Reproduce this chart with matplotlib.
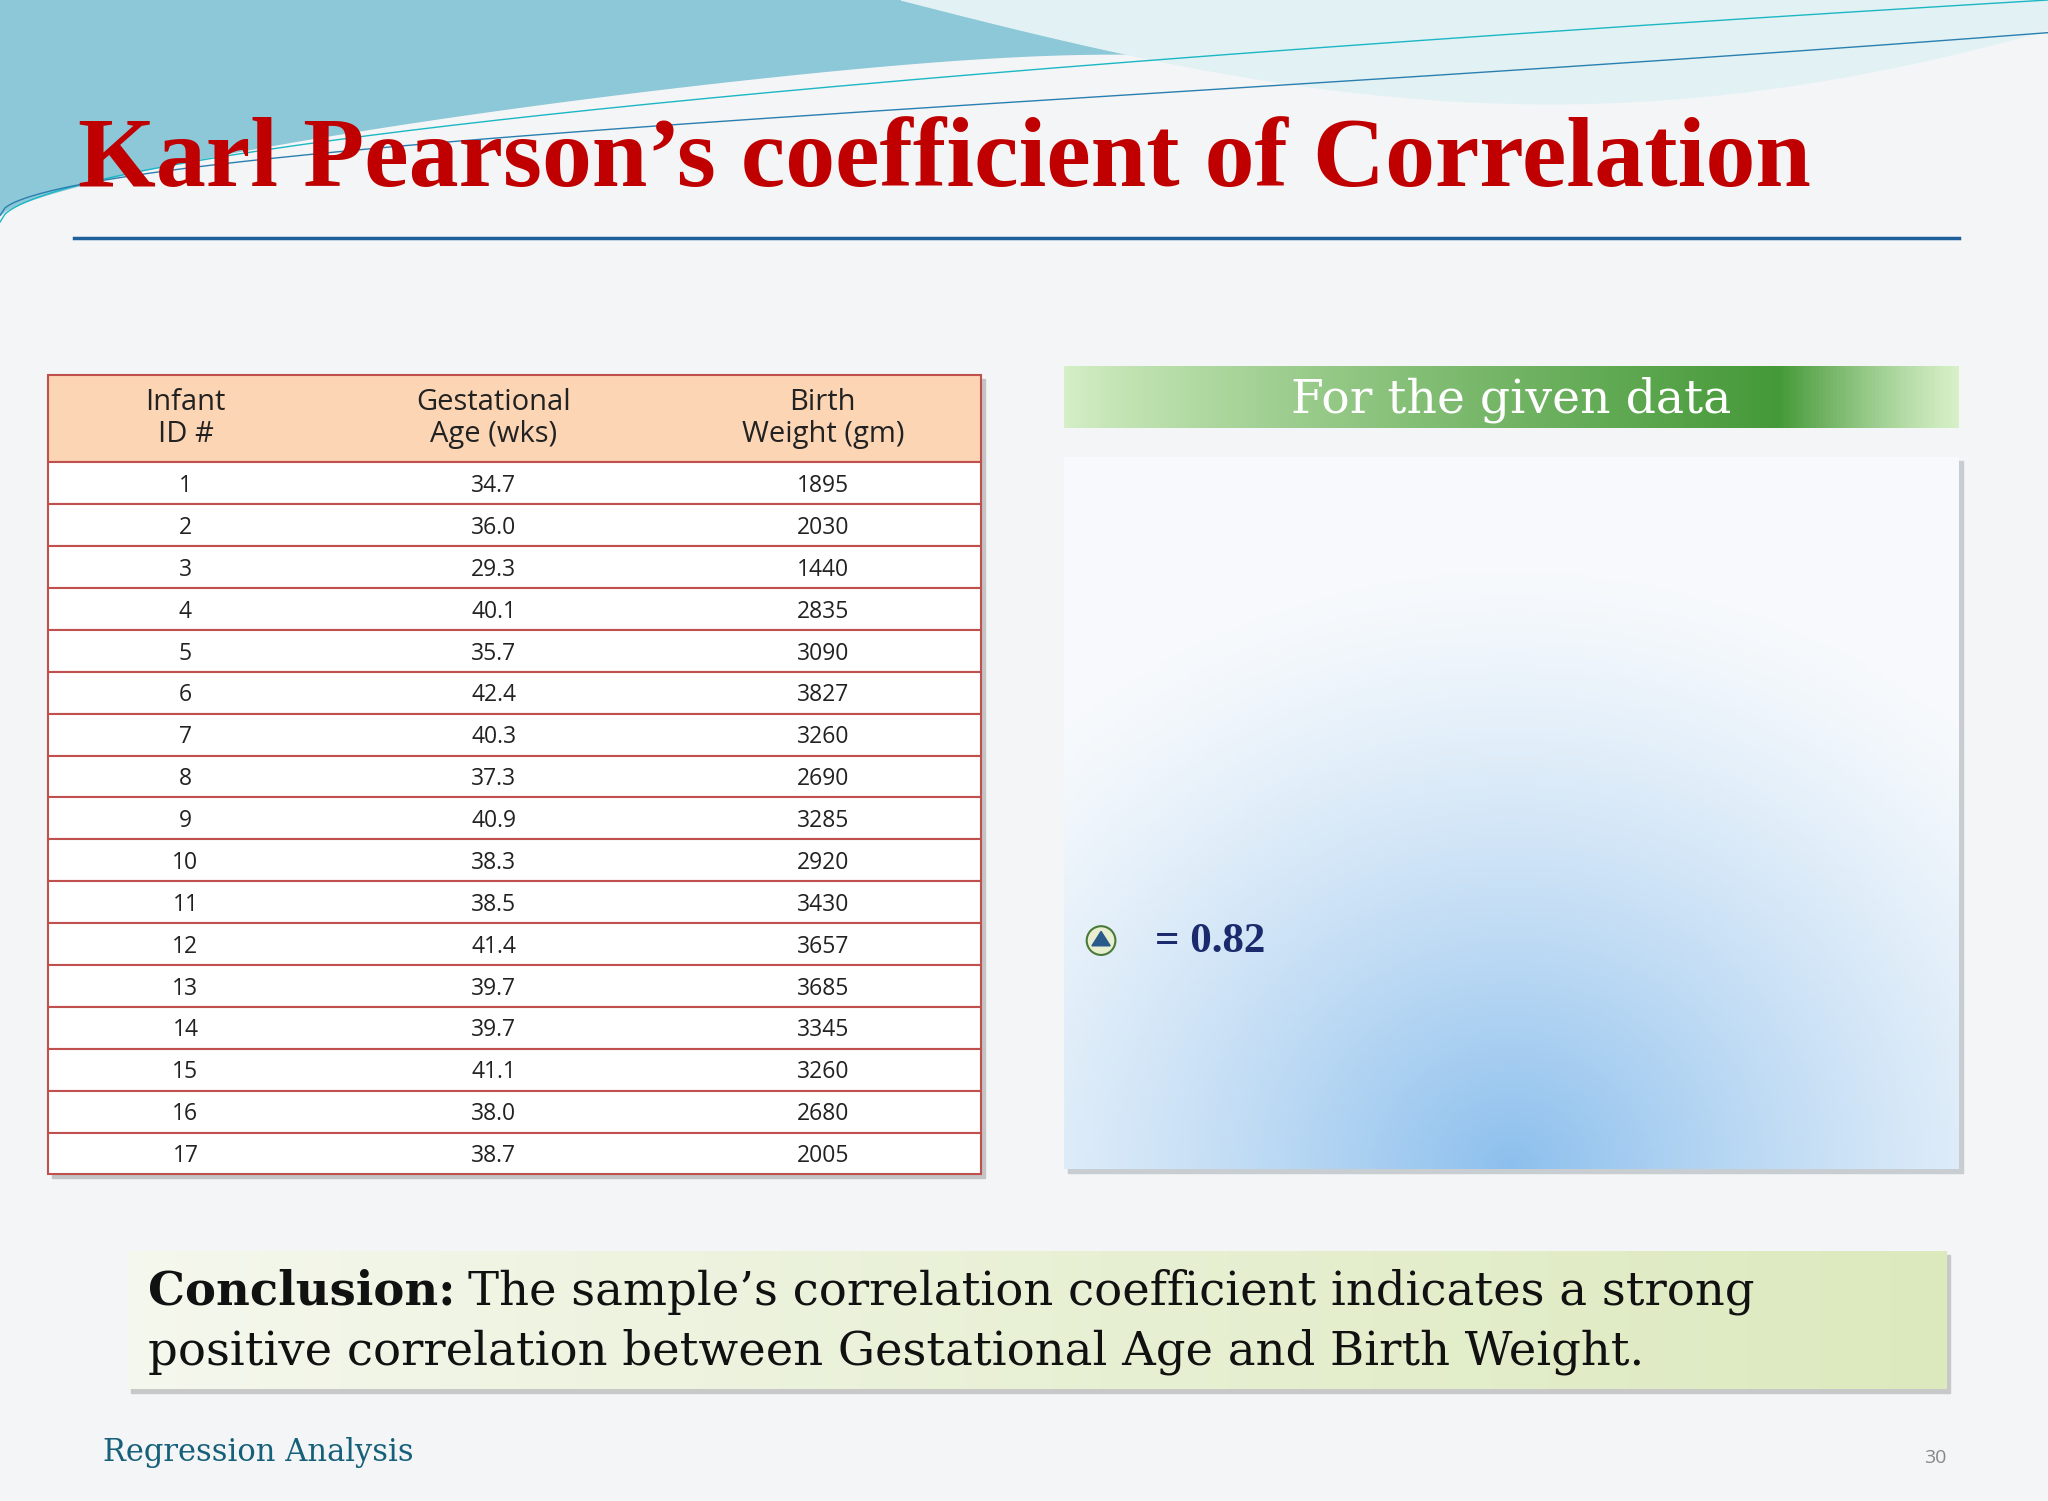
import numpy as np
import matplotlib.pyplot as plt
from matplotlib.patches import Rectangle, Circle, Polygon

# table data
infant_id = [str(i) for i in range(1, 18)]
gest_age = ["34.7", "36.0", "29.3", "40.1", "35.7", "42.4", "40.3", "37.3", "40.9",
            "38.3", "38.5", "41.4", "39.7", "39.7", "41.1", "38.0", "38.7"]
birth_wt = ["1895", "2030", "1440", "2835", "3090", "3827", "3260", "2690", "3285",
            "2920", "3430", "3657", "3685", "3345", "3260", "2680", "2005"]
headers = ["Infant\nID #", "Gestational\nAge (wks)", "Birth\nWeight (gm)"]
r_value = 0.82

W, H = 1568, 1149
fig = plt.figure(figsize=(20.48, 15.01), dpi=100)
ax = fig.add_axes([0, 0, 1, 1])
ax.set_xlim(0, W)
ax.set_ylim(H, 0)
ax.axis('off')
fig.patch.set_facecolor('#f3f5f7')

# top waves (decoration)
x = np.linspace(0, W, 400)
u = x / W
edge1 = 165 - 150 * np.sin(np.pi * np.clip(u / 0.9, 0, 1) * 0.5) ** 0.7 + 40 * np.exp(-((u - 0.75) / 0.15) ** 2)
ax.add_patch(Polygon(np.column_stack([np.r_[x, W, 0], np.r_[edge1, 0, 0]]), color='#8cc8d8', zorder=1))
m = x > 690
edge2 = 0 + 90 * np.sin(np.pi * (x[m] - 690) / 878 * 0.8) - 30 * ((x[m] - 690) / 878) ** 2
ax.add_patch(Polygon(np.column_stack([np.r_[x[m], W, 690], np.r_[edge2, 0, 0]]), color='#e2f2f4', zorder=1))
ax.add_patch(Polygon(np.column_stack([np.r_[x[m], W], np.r_[110 - 75 * ((x[m] - 690) / 878) ** 1.5 + 20 * np.sin(np.pi * (x[m] - 690) / 878), 140]]),
                     color='#f3f5f7', zorder=1))
ax.plot(x, 170 - 170 * u ** 0.55, color='#1cb7c4', lw=1, zorder=2)
ax.plot(x, 165 - 120 * u ** 0.5 - 20 * u ** 3, color='#2a7fb0', lw=1, zorder=2)

# title
ax.text(60, 124, "Karl Pearson\u2019s coefficient of Correlation", color='#c00000',
        fontsize=72, fontweight='bold', family='Liberation Serif', va='center', ha='left', zorder=3)
ax.plot([57, 1500], [182, 182], color='#1f5f9a', lw=2.5)

# table
tx0, tx1 = 37, 751
col_x = [142, 378, 630]
hy0, hy1 = 287, 354
row_h = (899 - hy1) / len(infant_id)
red = '#c0504d'
ax.add_patch(Rectangle((tx0 + 3, hy0 + 3), tx1 - tx0, 899 - hy0, color='#c4c4c4', zorder=2))
ax.add_patch(Rectangle((tx0, hy0), tx1 - tx0, hy1 - hy0, facecolor='#fcd5b4', edgecolor=red, lw=1.5, zorder=3))
for cx, h in zip(col_x, headers):
    ax.text(cx, (hy0 + hy1) / 2, h, ha='center', va='center', fontsize=21,
            family='Open Sans', linespacing=1.15, color='#222222', zorder=4)
for i, row in enumerate(zip(infant_id, gest_age, birth_wt)):
    y0 = hy1 + i * row_h
    ax.add_patch(Rectangle((tx0, y0), tx1 - tx0, row_h, facecolor='white', edgecolor=red, lw=1.5, zorder=3))
    for cx, v in zip(col_x, row):
        ax.text(cx, y0 + row_h / 2 + 2, v, ha='center', va='center', fontsize=16.5,
                family='Open Sans', color='#222222', zorder=4)

# green header
g = np.linspace(0, 1, 256)
gr = np.clip(g / 0.8, 0, 1) ** 0.8
gr[g > 0.8] = ((1 - g[g > 0.8]) / 0.2) ** 1.2
c1, c2 = np.array([0.84, 0.94, 0.78]), np.array([0.27, 0.60, 0.22])
img = (c1[None, :] * (1 - gr[:, None]) + c2[None, :] * gr[:, None])[None, :, :]
ax.imshow(img, extent=(815, 1500, 328, 281), aspect='auto', zorder=2)
ax.text(1157, 306, "For the given data", color='white', fontsize=34, family='DejaVu Serif',
        ha='center', va='center', zorder=3)

# blue panel
ax.add_patch(Rectangle((818, 353), 685, 545, color='#c8cdd2', zorder=1))
yy, xx = np.mgrid[0:1:200j, 0:1:200j]
d = np.sqrt(((xx - 0.5) / 0.75) ** 2 + ((yy - 1.0) / 0.85) ** 2)
t = np.clip(1 - d, 0, 1) ** 1.3
top_c, bot_c = np.array([0.97, 0.98, 0.99]), np.array([0.55, 0.75, 0.93])
panel = top_c * (1 - t[..., None]) + bot_c * t[..., None]
ax.imshow(panel, extent=(815, 1500, 895, 350), aspect='auto', zorder=2)
ax.add_patch(Circle((843, 720), 11, facecolor='#e8eed0', edgecolor='#4a7a3a', lw=1.5, zorder=3))
ax.add_patch(Polygon([[836, 724], [850, 724], [843, 713]], color='#2a5a8a', zorder=4))
ax.text(884, 721, "= %.2f" % r_value, color='#1a2a6c', fontsize=31, fontweight='bold',
        family='Liberation Serif', ha='left', va='center', zorder=3)

# conclusion box
ax.add_patch(Rectangle((100, 961), 1393, 105, color='#c8c8c8', zorder=1))
g2 = np.linspace(0, 1, 256)
cc = np.array([0.96, 0.97, 0.93]) * (1 - g2[:, None] * 0.6) + np.array([0.80, 0.88, 0.62]) * (g2[:, None] * 0.6)
ax.imshow(cc[None, :, :], extent=(97, 1490, 1063, 958), aspect='auto', zorder=2)
lbl = ax.text(113, 989, "Conclusion:", fontsize=33.5, fontweight='bold', family='DejaVu Serif',
              ha='left', va='center', zorder=3, color='#111111')
fig.canvas.draw()
bb = lbl.get_window_extent().transformed(ax.transData.inverted())
ax.text(bb.x1 + 10, 989, "The sample\u2019s correlation coefficient indicates a strong", fontsize=33.5,
        family='DejaVu Serif', ha='left', va='center', zorder=3, color='#111111')
ax.text(113, 1035, "positive correlation between Gestational Age and Birth Weight.", fontsize=33.5,
        family='DejaVu Serif', ha='left', va='center', zorder=3, color='#111111')

# footer
ax.text(79, 1112, "Regression Analysis", color='#17607a', fontsize=22, family='DejaVu Serif',
        ha='left', va='center')
ax.text(1490, 1116, "30", color='#888888', fontsize=14, family='Open Sans', ha='right', va='center')

fig.savefig('out.png', dpi=100)
